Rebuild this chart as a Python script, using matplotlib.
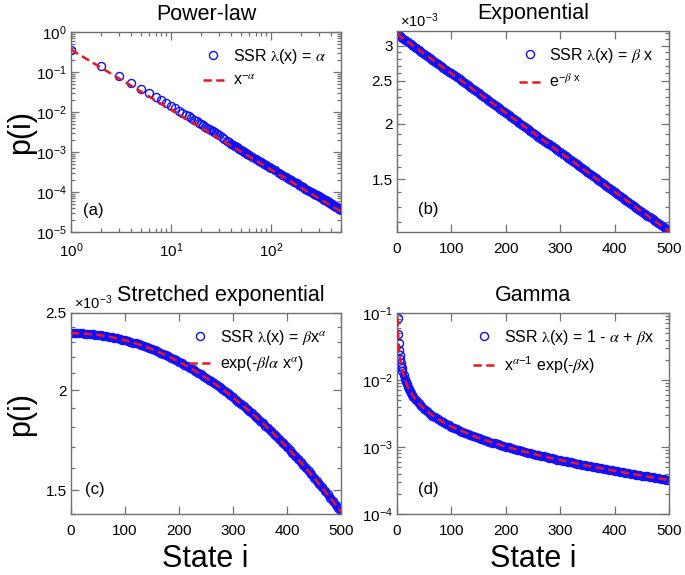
import matplotlib
matplotlib.use('Agg')
import matplotlib.pyplot as plt
from matplotlib.ticker import (FixedLocator, FixedFormatter, MultipleLocator,
                               NullFormatter, LogLocator)

plt.rcParams['font.family'] = ['Liberation Sans', 'DejaVu Sans']
plt.rcParams['mathtext.fontset'] = 'stix'

# ---------------- data ----------------
# (a) Power-law
state_a = list(range(1, 31)) + list(range(32, 61, 2)) + list(range(65, 101, 5)) + list(range(110, 501, 10))
p_a = [0.355, 0.1408, 0.0787, 0.0520, 0.0372, 0.0296, 0.0240, 0.0195, 0.01662, 0.01431,
       0.01240, 0.01089, 0.00965, 0.00864, 0.00779, 0.00707, 0.00646, 0.00588, 0.00542, 0.00498,
       0.00463, 0.00428, 0.00400, 0.00372, 0.00350, 0.00328, 0.00310, 0.00291, 0.00276, 0.00260,
       0.00234, 0.00212, 0.00193, 0.00178, 0.00163, 0.00150, 0.00140, 0.00130, 0.00122, 0.00114,
       0.00107, 0.00101, 0.000950, 0.000902, 0.000857,
       0.000760, 0.000680, 0.000613, 0.000557, 0.000508, 0.000466, 0.000430, 0.000398,
       3.45e-4, 3.03e-4, 2.69e-4, 2.40e-4, 2.17e-4, 1.97e-4, 1.80e-4, 1.65e-4, 1.52e-4, 1.41e-4,
       1.309e-4, 1.220e-4, 1.152e-4, 1.081e-4, 1.017e-4, 9.58e-5, 9.06e-5, 8.65e-5, 8.21e-5, 7.80e-5,
       7.43e-5, 7.08e-5, 6.76e-5, 6.47e-5, 6.19e-5, 5.94e-5, 5.70e-5, 5.47e-5, 5.26e-5, 5.07e-5,
       4.89e-5, 4.71e-5, 4.55e-5, 4.39e-5, 4.25e-5, 4.11e-5, 3.98e-5, 3.86e-5, 3.74e-5, 3.63e-5]
fit_a_x = [1, 500]
fit_a_y = [0.362, 3.24e-5]

# (b) Exponential  (values in units of 1e-3)
state_b = [1] + list(range(5, 501, 5))
p_b = [3.187, 3.157, 3.125, 3.093, 3.062, 3.031, 3.000, 2.969, 2.939, 2.909,
       2.879, 2.850, 2.821, 2.792, 2.763, 2.735, 2.707, 2.680, 2.652, 2.625,
       2.599, 2.572, 2.546, 2.520, 2.494, 2.469, 2.444, 2.419, 2.394, 2.370,
       2.345, 2.321, 2.298, 2.274, 2.251, 2.228, 2.205, 2.183, 2.161, 2.139,
       2.117, 2.095, 2.074, 2.053, 2.032, 2.011, 1.991, 1.970, 1.950, 1.930,
       1.911, 1.891, 1.872, 1.853, 1.834, 1.815, 1.797, 1.778, 1.760, 1.742,
       1.725, 1.707, 1.690, 1.672, 1.655, 1.638, 1.622, 1.605, 1.589, 1.573,
       1.557, 1.541, 1.525, 1.509, 1.494, 1.479, 1.464, 1.449, 1.434, 1.419,
       1.405, 1.390, 1.376, 1.362, 1.348, 1.335, 1.321, 1.308, 1.294, 1.281,
       1.268, 1.255, 1.242, 1.230, 1.217, 1.205, 1.192, 1.180, 1.168, 1.156,
       1.144]
fit_b_x = [0, 500]
fit_b_y = [3.19, 1.144]

# (c) Stretched exponential  (values in units of 1e-3)
state_c = [1] + list(range(5, 501, 5))
p_c = [2.359, 2.359, 2.3585, 2.3579, 2.3571, 2.3560, 2.3546, 2.3531, 2.3512, 2.3492,
       2.3469, 2.3443, 2.3416, 2.3386, 2.3353, 2.3318, 2.3281, 2.3241, 2.3200, 2.3155,
       2.3109, 2.3060, 2.3009, 2.2956, 2.2901, 2.2843, 2.2783, 2.2721, 2.2657, 2.2590,
       2.2522, 2.2451, 2.2378, 2.2304, 2.2227, 2.2148, 2.2067, 2.1984, 2.1900, 2.1813,
       2.1724, 2.1634, 2.1542, 2.1448, 2.1352, 2.1254, 2.1155, 2.1054, 2.0951, 2.0847,
       2.0741, 2.0633, 2.0524, 2.0413, 2.0301, 2.0188, 2.0073, 1.9956, 1.9838, 1.9719,
       1.9599, 1.9477, 1.9354, 1.9230, 1.9105, 1.8978, 1.8851, 1.8722, 1.8592, 1.8462,
       1.8330, 1.8198, 1.8064, 1.7930, 1.7795, 1.7659, 1.7522, 1.7385, 1.7247, 1.7108,
       1.6969, 1.6829, 1.6689, 1.6547, 1.6406, 1.6264, 1.6121, 1.5978, 1.5835, 1.5691,
       1.5547, 1.5403, 1.5258, 1.5113, 1.4968, 1.4823, 1.4678, 1.4533, 1.4388, 1.4242,
       1.4097]
fit_c_x = [0, 25, 50, 75, 100, 125, 150, 175, 200, 225, 250, 275, 300, 325, 350, 375, 400, 425, 450, 475, 500]
fit_c_y = [2.359, 2.3560, 2.3469, 2.3318, 2.3109, 2.2843, 2.2522, 2.2148, 2.1724, 2.1254, 2.0741,
           2.0188, 1.9599, 1.8978, 1.8330, 1.7659, 1.6969, 1.6264, 1.5547, 1.4823, 1.4097]

# (d) Gamma
state_d = list(range(1, 11)) + list(range(12, 31, 2)) + list(range(35, 501, 5))
p_d = [0.08388, 0.04879, 0.03551, 0.02833, 0.02377, 0.02059, 0.01823, 0.01640, 0.01494, 0.01374,
       0.01189, 0.01051, 0.009442, 0.008590, 0.007884, 0.007302, 0.006801, 0.006371, 0.005998, 0.005667,
       0.004990, 0.004463, 0.004043, 0.003698, 0.003407, 0.003161, 0.002948, 0.002762, 0.002600, 0.002454,
       0.002323, 0.002206, 0.002101, 0.002003, 0.001914, 0.001833, 0.001758, 0.001688, 0.001623, 0.001563,
       0.001507, 0.001454, 0.001405, 0.001359, 0.001315, 0.001274, 0.001234, 0.001197, 0.001162, 0.001129,
       0.001097, 0.001067, 0.001038, 0.001010, 0.0009838, 0.0009585, 0.0009343, 0.0009112, 0.0008889, 0.0008675,
       0.0008470, 0.0008272, 0.0008082, 0.0007898, 0.0007722, 0.0007551, 0.0007386, 0.0007227, 0.0007073, 0.0006925,
       0.0006781, 0.0006641, 0.0006506, 0.0006375, 0.0006248, 0.0006125, 0.0006006, 0.0005890, 0.0005778, 0.0005668,
       0.0005562, 0.0005459, 0.0005358, 0.0005261, 0.0005166, 0.0005073, 0.0004983, 0.0004895, 0.0004809, 0.0004726,
       0.0004644, 0.0004565, 0.0004487, 0.0004412, 0.0004338, 0.0004266, 0.0004195, 0.0004126, 0.0004059, 0.0003993,
       0.0003929, 0.0003866, 0.0003805, 0.0003745, 0.0003686, 0.0003629, 0.0003572, 0.0003517, 0.0003463, 0.0003410,
       0.0003359, 0.0003308, 0.0003258, 0.0003210]
fit_d_x = [1, 2, 3, 4, 5, 6, 8, 10, 14, 20, 30, 40, 50, 70, 100, 150, 200, 250, 300, 350, 400, 450, 500]
fit_d_y = [0.08388, 0.04879, 0.03551, 0.02833, 0.02377, 0.02059, 0.01640, 0.01374, 0.01051, 0.007884,
           0.005667, 0.004463, 0.003698, 0.002762, 0.002003, 0.001359, 0.001010, 0.0007898, 0.0006375,
           0.0005261, 0.0004412, 0.0003745, 0.0003210]

titles = ['Power-law', 'Exponential', 'Stretched exponential', 'Gamma']
panel_tags = ['(a)', '(b)', '(c)', '(d)']
ssr_labels = [r'SSR $\mathrm{\lambda}$(x) = $\alpha$',
              r'SSR $\mathrm{\lambda}$(x) = $\beta$ x',
              r'SSR $\mathrm{\lambda}$(x) = $\beta$x$^{\alpha}$',
              r'SSR $\mathrm{\lambda}$(x) = 1 - $\alpha$ + $\beta$x']
fit_labels = [r'x$^{\mathregular{-}\alpha}$',
              r'e$^{\mathregular{-}\beta\ \mathregular{x}}$',
              r'exp(-$\beta$/$\alpha$ x$^{\alpha}$)',
              r'x$^{\alpha\mathregular{-1}}$ exp(-$\beta$x)']
# first index from which the circles overlap into a dense band
band_start = [34, 0, 0, 10]

# ---------------- figure ----------------
W, H = 685, 575
fig = plt.figure(figsize=(W / 100, H / 100), dpi=100)

def fax(l, t, r, b):
    return fig.add_axes([l / W, 1 - b / H, (r - l) / W, (b - t) / H])

axa = fax(71, 32, 341, 232)
axb = fax(397, 31, 669, 232)
axc = fax(71, 313, 341, 514)
axd = fax(397, 313, 669, 514)
axes = [axa, axb, axc, axd]

BLUE = '#1010ff'
RED = '#e8191c'
GRAY = '#707070'
mk = dict(marker='o', ls='none', mfc='none', mec=BLUE, ms=5.8, mew=1.0)
ln = dict(color=RED, lw=1.8, dashes=(3.3, 1.8))

data = [(state_a, p_a, fit_a_x, fit_a_y),
        (state_b, p_b, fit_b_x, fit_b_y),
        (state_c, p_c, fit_c_x, fit_c_y),
        (state_d, p_d, fit_d_x, fit_d_y)]

for i, ax in enumerate(axes):
    sx, sy, fx, fy = data[i]
    k = band_start[i]
    ax.plot(sx[k:], sy[k:], color=BLUE, lw=5.0, solid_capstyle='round', zorder=1)
    ax.plot(sx, sy, label=ssr_labels[i], zorder=2, **mk)
    ax.plot(fx, fy, label=fit_labels[i], zorder=3, **ln)
    for s in ax.spines.values():
        s.set_color(GRAY)
        s.set_linewidth(1.0)
    ax.tick_params(which='both', direction='in', top=True, right=True, color=GRAY,
                   labelsize=11, width=0.9)
    ax.tick_params(which='major', length=6)
    ax.tick_params(which='minor', length=3)
    ax.tick_params(axis='x', pad=7)
    ax.tick_params(axis='y', pad=3)

# (a)
axa.set_xscale('log')
axa.set_yscale('log')
axa.set_xlim(1, 500)
axa.set_ylim(1e-5, 1)
axa.yaxis.set_major_locator(LogLocator(base=10, numticks=10))
axa.yaxis.set_minor_locator(LogLocator(base=10, subs=range(2, 10), numticks=20))
axa.xaxis.set_minor_formatter(NullFormatter())
axa.yaxis.set_minor_formatter(NullFormatter())

# (b)
axb.set_yscale('log')
axb.set_xlim(0, 500)
axb.set_ylim(1.14, 3.24)
axb.yaxis.set_major_locator(FixedLocator([1.5, 2, 2.5, 3]))
axb.yaxis.set_major_formatter(FixedFormatter(['1.5', '2', '2.5', '3']))
axb.yaxis.set_minor_locator(MultipleLocator(0.1))
axb.yaxis.set_minor_formatter(NullFormatter())

# (c)
axc.set_yscale('log')
axc.set_xlim(0, 500)
axc.set_ylim(1.4, 2.5)
axc.yaxis.set_major_locator(FixedLocator([1.5, 2, 2.5]))
axc.yaxis.set_major_formatter(FixedFormatter(['1.5', '2', '2.5']))
axc.yaxis.set_minor_locator(MultipleLocator(0.1))
axc.yaxis.set_minor_formatter(NullFormatter())

# (d)
axd.set_yscale('log')
axd.set_xlim(0, 500)
axd.set_ylim(1e-4, 1e-1)
axd.yaxis.set_major_locator(LogLocator(base=10, numticks=10))
axd.yaxis.set_minor_locator(LogLocator(base=10, subs=range(2, 10), numticks=20))
axd.yaxis.set_minor_formatter(NullFormatter())

for ax in (axb, axc, axd):
    ax.set_xticks([0, 100, 200, 300, 400, 500])

# titles
title_x = [0.5, 0.5, 0.556, 0.5]
for i, ax in enumerate(axes):
    ax.set_title(titles[i], fontsize=15.5, pad=8.5, x=title_x[i])

# offset texts
for ax in (axb, axc):
    ax.text(0.01, 1.003, r'×10$^{\mathregular{-3}}$', transform=ax.transAxes,
            ha='left', va='bottom', fontsize=10.5)

# panel tags
tag_pos = [(0.045, 0.11), (0.077, 0.11), (0.052, 0.12), (0.077, 0.12)]
for i, ax in enumerate(axes):
    ax.text(tag_pos[i][0], tag_pos[i][1], panel_tags[i], transform=ax.transAxes,
            ha='left', va='center', fontsize=12)

# legends
for ax in axes:
    ax.legend(loc='upper right', bbox_to_anchor=(0.945, 0.925), frameon=False, fontsize=11.5,
              numpoints=1, handlelength=1.3, handletextpad=0.6, labelspacing=0.45,
              borderaxespad=0, borderpad=0)

# axis labels
fig.text(21 / W, 1 - 132 / H, 'p(i)', rotation=90, ha='center', va='center', fontsize=22)
fig.text(21 / W, 1 - 414 / H, 'p(i)', rotation=90, ha='center', va='center', fontsize=22)
fig.text(205 / W, 1 - 567 / H, 'State i', ha='center', va='baseline', fontsize=22)
fig.text(533 / W, 1 - 567 / H, 'State i', ha='center', va='baseline', fontsize=22)

fig.savefig('out.png', dpi=100)
